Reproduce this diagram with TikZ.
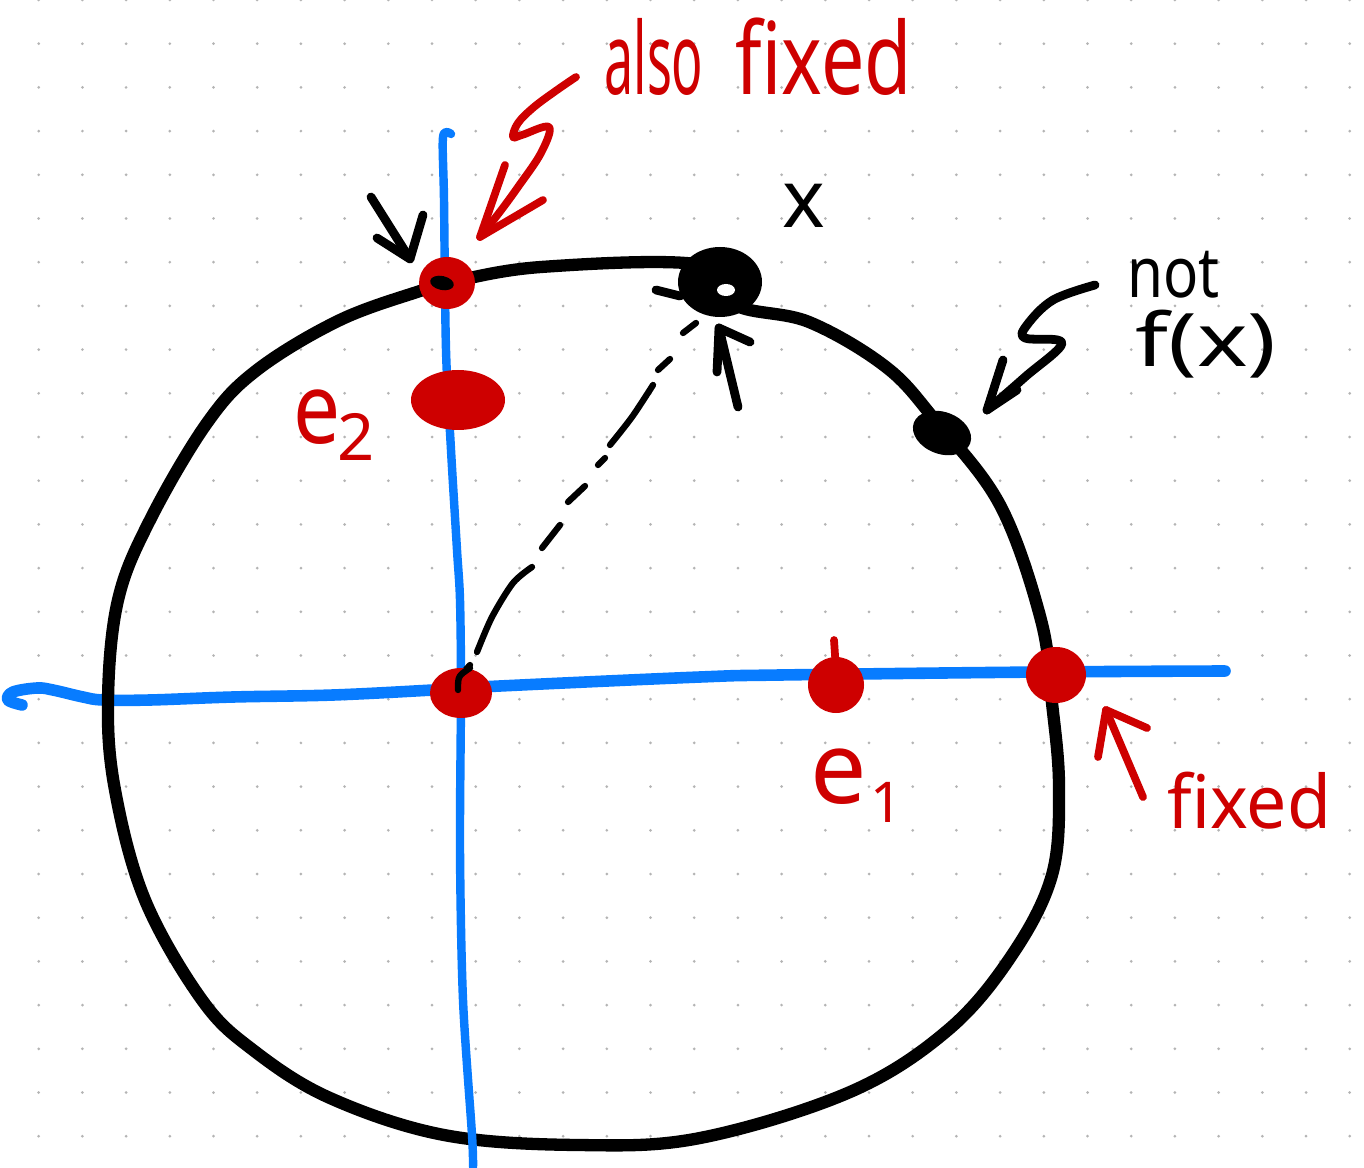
\documentclass[tikz,border=0pt]{standalone}
\usepackage{fontspec}
\usepackage{graphicx}
\setmainfont{Noto Sans}
\definecolor{penred}{RGB}{206,0,0}
\definecolor{axblue}{RGB}{8,124,255}
\definecolor{dotgray}{RGB}{180,180,180}
\tikzset{
  ink/.style={draw=black, line width=7pt, line cap=round, line join=round},
  blueax/.style={draw=axblue, line cap=round, line join=round},
  redpen/.style={draw=penred, line width=4.4pt, line cap=round, line join=round},
  blackpen/.style={draw=black, line width=5pt, line cap=round, line join=round},
  dashseg/.style={draw=black, line width=3.6pt, line cap=round, line join=round},
  redtext/.style={text=penred, inner sep=0pt},
  blacktext/.style={text=black, inner sep=0pt},
  reddot/.style={fill=penred},
}
\newcommand\fsz[1]{\fontsize{#1}{#1}\selectfont}
\begin{document}
\begin{tikzpicture}[x=0.02cm,y=-0.02cm]
\useasboundingbox (0,0) rectangle (1364,1168);
\fill[white] (0,0) rectangle (1364,1168);
% dot grid
\foreach \i in {0,...,30}{
  \foreach \j in {0,...,26}{
    \fill[dotgray] ({38.7+43.7*\i},{43.7*\j}) circle[radius=0.85pt];
  }
}
% horizontal axis
\draw[blueax, line width=6.6pt] plot[smooth, tension=0.6] coordinates {
  (22,705) (8,700) (13,692) (37,688) (53,690) (83,697) (103,700) (150,700)
  (233,697) (333,695) (433,690) (500,686) (700,677) (780,675) (1041,672) (1225,671)};
% unit circle (hand drawn)
\draw[ink] plot[smooth cycle, tension=0.6] coordinates {
  (447,283) (541,267) (702,265) (735,305) (809,322) (886,367) (935,420)
  (1000,505) (1041,620) (1052,703) (1059,787) (1052,875) (1012,955) (948,1030)
  (850,1092) (700,1138) (578,1145) (444,1135) (330,1098) (253,1050) (202,1000)
  (145,900) (115,790) (108,700) (118,600) (150,520) (207,423) (257,370)
  (340,320) (423,290)};
% vertical axis
\draw[blueax, line width=4.8pt] plot[smooth, tension=0.5] coordinates {
  (451,134) (443,137) (444,200) (446,350) (451,450) (457,550) (460,600)
  (461,690) (460,850) (463,1000) (472,1135) (473,1167)};
% dashed segment from origin to x
\draw[dashseg] (454,683) -- (470,665);
\draw[dashseg] plot[smooth] coordinates {(477,652) (492,617) (513,583) (532,567)};
\draw[dashseg] (542,548) -- (560,525);
\draw[dashseg] (568,502) -- (585,486);
\draw[dashseg] (598,465) -- (605,458);
\draw[dashseg] plot[smooth] coordinates {(610,445) (632,417) (653,385)};
\draw[dashseg] (658,370) -- (670,359);
\draw[dashseg] (683,333) -- (696,323);
% red points
\fill[reddot] (447,283) ellipse[x radius=28, y radius=26];
\fill[black, rotate around={-12:(442,283)}] (442,283) ellipse[x radius=12, y radius=7];
\fill[reddot] (458,400) ellipse[x radius=47, y radius=30];
\fill[reddot] (461,693) ellipse[x radius=31, y radius=25];
\draw[dashseg] (458,690) .. controls (458,676) .. (470,668);
\fill[reddot] (836,685) ellipse[x radius=28, y radius=28];
\draw[redpen] (834,640) -- (836,670);
\fill[reddot] (1056,675) ellipse[x radius=30, y radius=28];
% point x and not f(x)
\draw[blackpen] (656,290) -- (680,296);
\fill[black] (720,282) ellipse[x radius=42, y radius=35];
\fill[white] (726,290) ellipse[x radius=9, y radius=6];
\fill[black, rotate around={-20:(942,433)}] (942,433) ellipse[x radius=30, y radius=21];
% arrows
\coordinate (tlTip) at (410,259);
\draw[blackpen] (371,197) -- (tlTip);
\draw[blackpen] (377,238) -- (tlTip) -- (423,215);
\coordinate (afTip) at (480,237);
\draw[redpen] plot[smooth, tension=0.6] coordinates {(576,77) (557,90) (534,107) (518,123) (513,137) (522,135) (549,127) (541,153) (518,187) (499,213) (480,237)};
\draw[redpen] (505,165) -- (afTip) -- (543,200);
\coordinate (xTip) at (719,328);
\draw[blackpen] (738,407) -- (xTip) -- (750,342);
\draw[blackpen] (717,372) -- (xTip);
\coordinate (nfTip) at (987,410);
\draw[blackpen] plot[smooth, tension=0.6] coordinates {(1095,285) (1053,300) (1027,325) (1025,338) (1062,343) (1025,377) (987,410)};
\draw[blackpen] (1003,360) -- (nfTip) -- (1017,390);
\coordinate (fxTip) at (1106,710);
\draw[redpen] (1143,797) -- (fxTip);
\draw[redpen] (1098,757) -- (fxTip) -- (1147,728);
% labels
\node[redtext, anchor=base west] (also) at (604,95) {\fsz{57}\scalebox{0.52}[1]{also}};
\node[redtext, anchor=base west] (fixedtop) at (735,95) {\fsz{57}\scalebox{0.77}[1]{fixed}};
\node[blacktext, anchor=base west] (xlab) at (782,228) {\fsz{46}x};
\node[blacktext, anchor=base west] (notlab) at (1127,298) {\fsz{40}\scalebox{0.83}[1]{not}};
\node[blacktext, anchor=base west] (fxlab) at (1135,367) {\fsz{42}\scalebox{1.3}[1]{f(x)}};
\node[redtext, anchor=base west] (etwo) at (293,443) {\fsz{56}\scalebox{0.85}[1]{e}\kern-2pt\raisebox{-10pt}{\fsz{37}2}};
\node[redtext, anchor=base west] (eone) at (810,803) {\fsz{57}e\kern2pt\raisebox{-11pt}{\fsz{32}1}};
\node[redtext, anchor=base west] (fixedlab) at (1167,828) {\fsz{42}\scalebox{0.97}[1]{fixed}};
\end{tikzpicture}
\end{document}
